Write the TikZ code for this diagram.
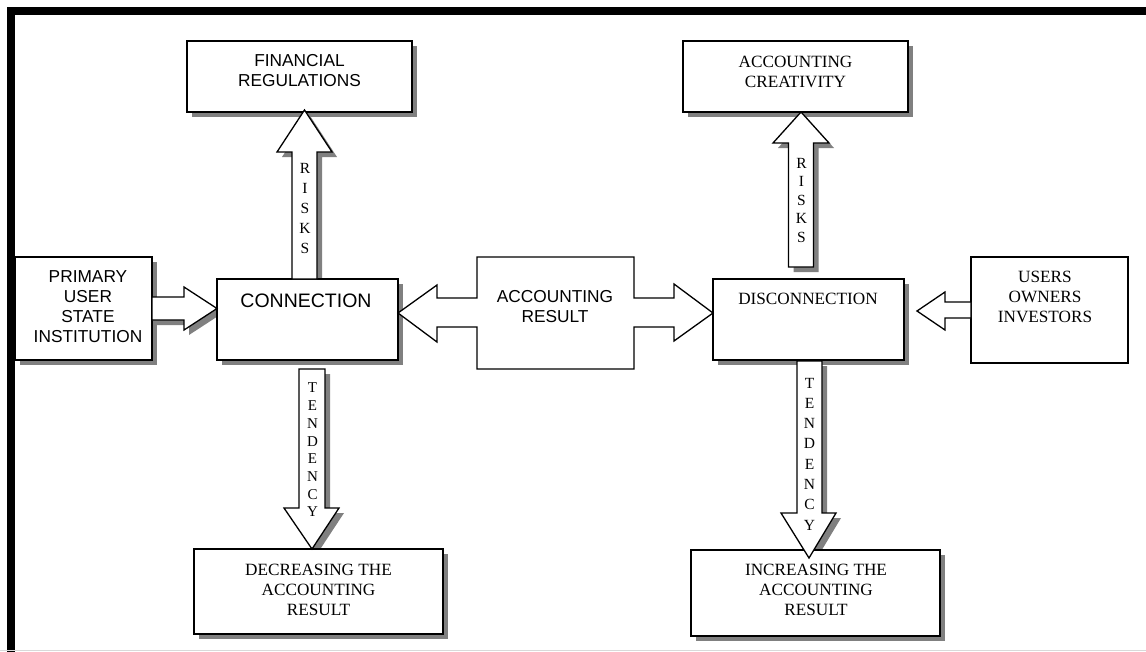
\documentclass[tikz,border=0pt]{standalone}
\usepackage{fontspec}
\setmainfont{Liberation Serif}
\newfontfamily\arialf{Liberation Sans}
\usetikzlibrary{shadows}
\newcommand\sansT{\arialf\fontsize{17.3}{20}\selectfont}
\newcommand\sansB{\arialf\fontsize{19.5}{22}\selectfont}
\newcommand\serT{\fontsize{17.2}{20}\selectfont}
\tikzset{
  box/.style={draw=black, line width=1.3pt, fill=white, rectangle, inner sep=0pt},
  sbox/.style={box, drop shadow={shadow xshift=5pt, shadow yshift=-5pt, fill=black!50, opacity=1}},
  blk/.style={draw=black, line width=1.3pt, fill=white, line join=miter},
  shd/.style={fill=black!50},
  txt/.style={inner sep=0pt, align=center},
}
\def\riskL{(292,279) -- (292,152) -- (277,152) -- (304.5,110) -- (332,152) -- (317,152) -- (317,279) -- cycle}
\def\riskR{(788.5,267) -- (788.5,143) -- (773,143) -- (801,112) -- (829,143) -- (813.5,143) -- (813.5,267) -- cycle}
\def\tendL{(299,369) -- (325,369) -- (325,508) -- (339,508) -- (312,549) -- (284,508) -- (299,508) -- cycle}
\def\tendR{(797,361) -- (822,361) -- (822,513) -- (836,513) -- (809,558) -- (781,513) -- (797,513) -- cycle}
\def\priA{(152,297) -- (184,297) -- (184,287) -- (217,308.5) -- (184,330) -- (184,320) -- (152,320) -- cycle}
\def\usrA{(971,302) -- (945,302) -- (945,292) -- (917,311) -- (945,330) -- (945,318) -- (971,318) -- cycle}
\def\accX{(477,257) -- (634,257) -- (634,298) -- (674,298) -- (674,284) -- (713,313) -- (674,341) -- (674,327) -- (634,327) -- (634,369) -- (477,369) -- (477,327) -- (437,327) -- (437,342) -- (398,313) -- (437,285) -- (437,298) -- (477,298) -- cycle}
\begin{document}
\begin{tikzpicture}[x=1pt, y=-1pt]
\useasboundingbox (0,0) rectangle (1146,651);
\fill[white] (0,0) rectangle (1146,651);
% arrow shadows
\begin{scope}[shift={(5,5)}]
\fill[shd] \riskL;
\fill[shd] \riskR;
\fill[shd] \tendL;
\fill[shd] \tendR;
\fill[shd] \priA;
\end{scope}
% boxes
\node (fin) [sbox, minimum width=225pt, minimum height=71pt] at (299.5,76.5) {};
\node (cre) [sbox, minimum width=225pt, minimum height=71pt] at (795.5,76.5) {};
\node (pri) [sbox, minimum width=137pt, minimum height=103pt] at (83.5,308.5) {};
\node (con) [sbox, minimum width=181pt, minimum height=81pt] at (307.5,319.5) {};
\node (dis) [sbox, minimum width=191pt, minimum height=81pt] at (808.5,319.5) {};
\node (usr) [box, minimum width=157pt, minimum height=106pt] at (1049.5,310) {};
\node (dec) [sbox, minimum width=249pt, minimum height=85pt] at (318.5,591.5) {};
\node (inc) [sbox, minimum width=249pt, minimum height=86pt] at (815.5,593) {};
% block arrows
\draw[blk] \accX;
\draw[blk] \riskL;
\draw[blk] \riskR;
\draw[blk] \tendL;
\draw[blk] \tendR;
\draw[blk] \priA;
\draw[blk] \usrA;
% texts
\node (tfin) [txt, font=\sansT] at (299.5,71) {FINANCIAL\\REGULATIONS};
\node (tcre) [txt, font=\serT] at (795.5,72) {ACCOUNTING\\CREATIVITY};
\node (tpri) [txt, font=\sansT] at (88,307) {PRIMARY\\USER\\STATE\\INSTITUTION};
\node (tcon) [txt, font=\sansB] at (306,301) {CONNECTION};
\node (tacc) [txt, font=\sansT] at (555,307) {ACCOUNTING\\RESULT};
\node (tdis) [txt, font=\serT] at (808,299) {DISCONNECTION};
\node (tusr) [txt, font=\serT] at (1045,297) {USERS\\OWNERS\\INVESTORS};
\node (tdec) [txt, font=\serT] at (318.5,590) {DECREASING THE\\ACCOUNTING\\RESULT};
\node (tinc) [txt, font=\serT] at (816,590) {INCREASING THE\\ACCOUNTING\\RESULT};
\node (rl) [txt, font={\fontsize{15.5}{20}\selectfont}] at (305,208) {R\\I\\S\\K\\S};
\node (rr) [txt, font={\fontsize{15.5}{18.5}\selectfont}] at (801.5,200) {R\\I\\S\\K\\S};
\node (tl) [txt, font={\fontsize{15}{17.7}\selectfont}] at (312.5,450) {T\\E\\N\\D\\E\\N\\C\\Y};
\node (tr) [txt, font={\fontsize{15.5}{20.3}\selectfont}] at (809.5,454) {T\\E\\N\\D\\E\\N\\C\\Y};
% frame
\draw[black, line width=7.7pt, line join=miter] (11.2,660) -- (11.2,11.2) -- (1160,11.2);
\draw[black!15, line width=1pt] (0,650) -- (1146,650);
\end{tikzpicture}
\end{document}
